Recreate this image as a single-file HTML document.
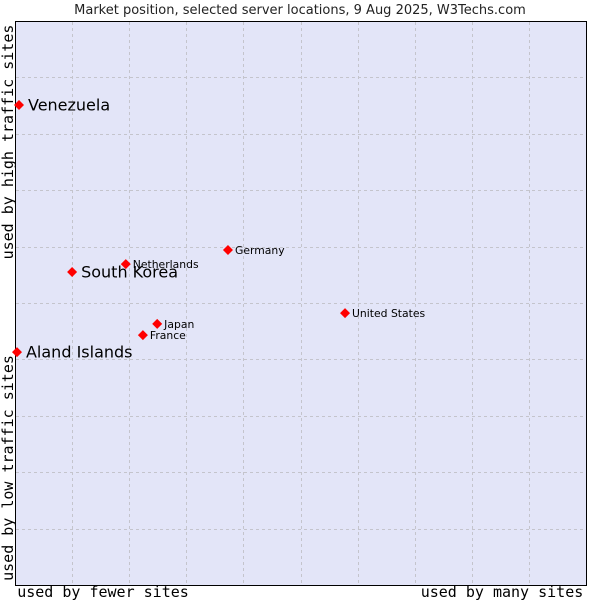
<!DOCTYPE html>
<html><head><meta charset="utf-8"><style>
body{margin:0;background:#fff;}
svg{display:block;}
</style></head><body>
<svg id="chart" width="600" height="600" xmlns="http://www.w3.org/2000/svg">
<text x="300" y="14" text-anchor="middle" font-family="DejaVu Sans, sans-serif" font-size="13" fill="#222">Market position, selected server locations, 9 Aug 2025, W3Techs.com</text>
<rect x="15.5" y="21.5" width="571" height="564" fill="#e3e5f8" stroke="#000" stroke-width="1"/>
<g id="grid"></g>
<g id="points"></g>
<text x="103" y="597" text-anchor="middle" font-family="DejaVu Sans Mono, monospace" font-size="15" fill="#000">used by fewer sites</text>
<text x="502" y="597" text-anchor="middle" font-family="DejaVu Sans Mono, monospace" font-size="15" fill="#000">used by many sites</text>
<text transform="translate(13,142) rotate(-90)" text-anchor="middle" font-family="DejaVu Sans Mono, monospace" font-size="15" fill="#000">used by high traffic sites</text>
<text transform="translate(13,468) rotate(-90)" text-anchor="middle" font-family="DejaVu Sans Mono, monospace" font-size="15" fill="#000">used by low traffic sites</text>
</svg>
<script>
const names = ["Venezuela","South Korea","Netherlands","Germany","United States","Japan","France","Aland Islands"];
const xValues = [0.7,10,19.4,37.3,57.8,24.9,22.4,0.35];
const yValues = [85.1,55.5,56.9,59.4,48.2,46.3,44.3,41.3];
const bigLabel = [true,true,false,false,false,false,false,true];
const NS="http://www.w3.org/2000/svg";
const X0=15,X1=586,Y0=585,Y1=21;
const xs=v=>X0+v/100*(X1-X0);
const ys=v=>Y0-v/100*(Y0-Y1);
const grid=document.getElementById('grid');
for(let i=1;i<10;i++){
  const gx=document.createElementNS(NS,'line');
  const px=Math.round(xs(i*10))+0.5;
  gx.setAttribute('x1',px);gx.setAttribute('x2',px);gx.setAttribute('y1',22);gx.setAttribute('y2',585);
  gx.setAttribute('stroke','#c4c4cc');gx.setAttribute('stroke-dasharray','3,3');
  
  
  grid.appendChild(gx);
  const gy=document.createElementNS(NS,'line');
  const py=Math.round(ys(i*10))+0.5;
  gy.setAttribute('y1',py);gy.setAttribute('y2',py);gy.setAttribute('x1',16);gy.setAttribute('x2',586);
  gy.setAttribute('stroke','#c4c4cc');gy.setAttribute('stroke-dasharray','3,3');
  
  
  grid.appendChild(gy);
}
const pts=document.getElementById('points');
names.forEach((n,i)=>{
  const cx=xs(xValues[i]),cy=ys(yValues[i]);
  const p=document.createElementNS(NS,'path');
  p.setAttribute('d',`M${cx-5},${cy}L${cx},${cy-5}L${cx+5},${cy}L${cx},${cy+5}Z`);
  p.setAttribute('fill','#f00');
  
  
  pts.appendChild(p);
  const t=document.createElementNS(NS,'text');
  const big=bigLabel[i];
  t.setAttribute('x',cx+(big?9:7));
  t.setAttribute('y',cy+(big?5.5:4));
  t.setAttribute('font-family','DejaVu Sans, sans-serif');
  t.setAttribute('font-size',big?16:10.8);
  t.setAttribute('fill','#000');
  t.textContent=n;
  
  
  pts.appendChild(t);
});
</script>
</body></html>
